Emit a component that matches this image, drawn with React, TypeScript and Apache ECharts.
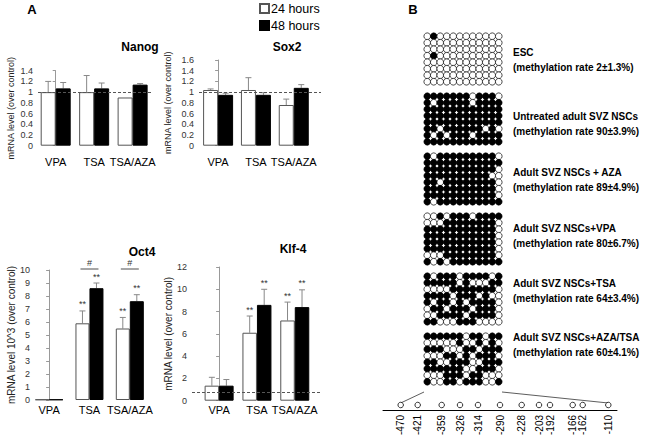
import React, { useEffect, useRef } from "react";
import * as echarts from "echarts";

// ---------- DATA ----------
const groups = ["VPA", "TSA", "TSA/AZA"];

const nanog24 = [1.0, 1.0, 0.9];
const nanog24Err = [0.2, 0.31, 0];
const nanog48 = [1.07, 1.07, 1.14];
const nanog48Err = [0.11, 0.1, 0.02];

const sox2_24 = [1.04, 1.04, 0.76];
const sox2_24Err = [0.02, 0.23, 0.11];
const sox2_48 = [0.95, 0.95, 1.08];
const sox2_48Err = [0.03, 0.04, 0.06];

const oct4_24 = [0.04, 5.9, 5.5];
const oct4_24Err = [0, 0.95, 0.85];
const oct4_48 = [0.04, 8.6, 7.6];
const oct4_48Err = [0, 0.4, 0.5];
const oct4Stars24 = ["", "**", "**"];
const oct4Stars48 = ["", "**", "**"];
const oct4Hash = ["", "#", "#"];

const klf24 = [1.35, 6.1, 7.2];
const klf24Err = [0.75, 1.5, 1.65];
const klf48 = [1.35, 8.6, 8.4];
const klf48Err = [0.55, 1.4, 1.55];
const klfStars24 = ["", "**", "**"];
const klfStars48 = ["", "**", "**"];

const cpgSites = ["-470", "-421", "-359", "-326", "-314", "-290", "-228", "-203", "-192", "-166", "-162", "-110"];
const cpgMapPos = [17.7, 34.7, 58.7, 77, 95, 117, 138.7, 156, 167, 189.7, 199.7, 225.3];

const methLabels = [
  "ESC",
  "Untreated adult SVZ NSCs",
  "Adult SVZ NSCs + AZA",
  "Adult SVZ NSCs+VPA",
  "Adult SVZ NSCs+TSA",
  "Adult SVZ NSCs+AZA/TSA",
];
const methRates = [
  "(methylation rate 2\u00b11.3%)",
  "(methylation rate 90\u00b13.9%)",
  "(methylation rate 89\u00b14.9%)",
  "(methylation rate 80\u00b16.7%)",
  "(methylation rate 64\u00b13.4%)",
  "(methylation rate 60\u00b14.1%)",
];
// 1 = methylated (black), 0 = unmethylated (white); 8 clones x 12 CpGs
const methPatterns = [
  [
    "010000000000",
    "000000000000",
    "000000000000",
    "010000000000",
    "000000000000",
    "000000000000",
    "000000000000",
    "000000000000",
  ],
  [
    "111111101110",
    "101111101111",
    "111111111111",
    "111111111111",
    "111111111111",
    "110111111010",
    "101011101111",
    "111111111111",
  ],
  [
    "101111111110",
    "111111111111",
    "111111111110",
    "111111111100",
    "110111111110",
    "111111111110",
    "111111111110",
    "101111111111",
  ],
  [
    "001011101111",
    "000111111110",
    "111111111110",
    "111111111110",
    "111111111110",
    "111111111110",
    "000111111110",
    "101011111111",
  ],
  [
    "101110111101",
    "111110100011",
    "000011111110",
    "111101110100",
    "101101011110",
    "011011101110",
    "001111011110",
    "110001110000",
  ],
  [
    "111111011011",
    "000001001010",
    "111000110111",
    "000110101110",
    "110011100111",
    "111111001110",
    "000111011000",
    "100110111001",
  ],
];

// ---------- LAYOUT / STYLE ----------
const FONT = "'Liberation Sans', Arial, Helvetica, sans-serif";

type Panel = {
  title: string;
  yName: string;
  v24: number[];
  e24: number[];
  v48: number[];
  e48: number[];
  s24?: string[];
  s48?: string[];
  hash?: string[];
  ref?: number;
  yMax: number;
  yInt: number;
  left: number;
  top: number;
  width: number;
  height: number;
  xMin: number;
  xMax: number;
  barW: number;
  labelMargin: number;
  nameGap: number;
  nameSize: number;
  titleX: number;
  titleY: number;
};

const panels: Panel[] = [
  {
    title: "Nanog", yName: "mRNA level (over control)",
    v24: nanog24, e24: nanog24Err, v48: nanog48, e48: nanog48Err, ref: 1,
    yMax: 1.4, yInt: 0.2, left: 38, top: 70.7, width: 115, height: 75,
    xMin: -0.46, xMax: 2.53, barW: 15, labelMargin: 11, nameGap: 23, nameSize: 9,
    titleX: 140, titleY: 47,
  },
  {
    title: "Sox2", yName: "mRNA level (over control)",
    v24: sox2_24, e24: sox2_24Err, v48: sox2_48, e48: sox2_48Err, ref: 1,
    yMax: 1.6, yInt: 0.2, left: 199, top: 60, width: 122, height: 85.7,
    xMin: -0.505, xMax: 2.72, barW: 15, labelMargin: 11, nameGap: 27, nameSize: 9,
    titleX: 287, titleY: 47,
  },
  {
    title: "Oct4", yName: "mRNA level 10^3 (over control)",
    v24: oct4_24, e24: oct4_24Err, v48: oct4_48, e48: oct4_48Err,
    s24: oct4Stars24, s48: oct4Stars48, hash: oct4Hash,
    yMax: 10, yInt: 1, left: 35, top: 270, width: 117, height: 130,
    xMin: -0.35, xMax: 2.55, barW: 14, labelMargin: 4, nameGap: 17, nameSize: 10,
    titleX: 142, titleY: 252,
  },
  {
    title: "Klf-4", yName: "mRNA level (over control)",
    v24: klf24, e24: klf24Err, v48: klf48, e48: klf48Err,
    s24: klfStars24, s48: klfStars48, ref: 0.8,
    yMax: 12, yInt: 2, left: 192, top: 267, width: 130, height: 133.7,
    xMin: -0.717, xMax: 2.72, barW: 14.5, labelMargin: 4, nameGap: 15, nameSize: 10,
    titleX: 293, titleY: 249,
  },
];

const methLeft = 424;
const methTops = [33, 93, 153, 213, 273, 333];
const methCell = 6.5;
const methTextX = 513;
const methTextY = [52, 116, 172, 228, 283, 337];

export default function App() {
  const ref = useRef<HTMLDivElement>(null);

  useEffect(() => {
    if (!ref.current) return;
    const chart = echarts.init(ref.current, null, { renderer: "svg" });

    const grids: any[] = [];
    const xAxes: any[] = [];
    const yAxes: any[] = [];
    const series: any[] = [];
    const graphics: any[] = [];

    panels.forEach((p, i) => {
      grids.push({ left: p.left, top: p.top, width: p.width, height: p.height });
      xAxes.push({
        gridIndex: i, type: "value", min: p.xMin, max: p.xMax,
        axisLine: { show: false }, axisTick: { show: false }, splitLine: { show: false },
        axisLabel: {
          customValues: [0, 1, 2],
          formatter: (v: number) => groups[Math.round(v)] ?? "",
          fontFamily: FONT, fontSize: 11, color: "#000", margin: p.labelMargin,
        },
      });
      yAxes.push({
        gridIndex: i, type: "value", min: 0, max: p.yMax, interval: p.yInt,
        name: p.yName, nameLocation: "middle", nameGap: p.nameGap,
        nameTextStyle: { fontFamily: FONT, fontSize: p.nameSize, color: "#222" },
        axisLine: { show: true, lineStyle: { color: "#999", width: 1 } },
        axisTick: { show: true, length: 3, lineStyle: { color: "#999" } },
        axisLabel: { fontFamily: FONT, fontSize: 9, color: "#333", margin: 5 },
        splitLine: { show: false },
      });
      const mk = (vals: number[]) => vals.map((v, k) => [k, v]);
      series.push({
        type: "bar", name: "24 hours", xAxisIndex: i, yAxisIndex: i,
        data: mk(p.v24), barWidth: p.barW, barGap: "0%",
        itemStyle: { color: "#fff", borderColor: "#555", borderWidth: 1 },
        markLine: p.ref !== undefined ? {
          silent: true, symbol: ["none", "none"], label: { show: false },
          lineStyle: { type: [3, 2], color: "#555", width: 1 },
          data: [{ yAxis: p.ref }],
        } : undefined,
      });
      series.push({
        type: "bar", name: "48 hours", xAxisIndex: i, yAxisIndex: i,
        data: mk(p.v48), barWidth: p.barW, barGap: "0%",
        itemStyle: { color: "#000", borderColor: "#000", borderWidth: 1 },
      });
      const errSeries = (vals: number[], errs: number[], stars: string[] | undefined, side: number) => ({
        type: "custom", xAxisIndex: i, yAxisIndex: i, silent: true,
        data: vals.map((v, k) => [k, v, errs[k]]),
        renderItem: (params: any, api: any) => {
          const x = api.value(0), v = api.value(1), e = api.value(2);
          const base = api.coord([x, v]);
          const tip = api.coord([x, v + e]);
          const cx = base[0] + (side * p.barW) / 2;
          const children: any[] = [];
          if (e > 0) {
            children.push({ type: "line", shape: { x1: cx, y1: base[1], x2: cx, y2: tip[1] }, style: { stroke: "#888", lineWidth: 1 } });
            children.push({ type: "line", shape: { x1: cx - 3, y1: tip[1], x2: cx + 3, y2: tip[1] }, style: { stroke: "#888", lineWidth: 1 } });
          }
          const star = stars ? stars[params.dataIndex] : "";
          if (star) {
            children.push({
              type: "text", x: cx, y: tip[1] - 2,
              style: { text: star, fill: "#333", font: `9px ${FONT}`, align: "center", verticalAlign: "bottom" },
            });
          }
          return { type: "group", children };
        },
      });
      series.push(errSeries(p.v24, p.e24, p.s24, -1));
      series.push(errSeries(p.v48, p.e48, p.s48, 1));
      if (p.hash) {
        const hash = p.hash;
        series.push({
          type: "custom", xAxisIndex: i, yAxisIndex: i, silent: true,
          data: hash.map((h, k) => [k, p.yMax]),
          renderItem: (params: any, api: any) => {
            const h = hash[params.dataIndex];
            if (!h) return { type: "group", children: [] };
            const pt = api.coord([api.value(0), api.value(1)]);
            return {
              type: "group",
              children: [
                { type: "line", shape: { x1: pt[0] - 9, y1: pt[1] - 1, x2: pt[0] + 9, y2: pt[1] - 1 }, style: { stroke: "#888", lineWidth: 1.5 } },
                { type: "text", x: pt[0], y: pt[1] - 3, style: { text: h, fill: "#333", font: `9px ${FONT}`, align: "center", verticalAlign: "bottom" } },
              ],
            };
          },
        });
      }
      graphics.push({
        type: "text", x: p.titleX, y: p.titleY,
        style: { text: p.title, font: `bold 12px ${FONT}`, fill: "#000", align: "center", verticalAlign: "middle" },
      });
    });

    // methylation grids
    methPatterns.forEach((pat, m) => {
      const gi = grids.length;
      grids.push({ left: methLeft, top: methTops[m], width: methCell * 12, height: methCell * 8 });
      xAxes.push({ gridIndex: gi, type: "value", min: -0.5, max: 11.5, show: false });
      yAxes.push({ gridIndex: gi, type: "value", min: -0.5, max: 7.5, inverse: true, show: false });
      const data: any[] = [];
      pat.forEach((row, r) => {
        row.split("").forEach((b, c) => {
          data.push({ value: [c, r], itemStyle: { color: b === "1" ? "#000" : "#fff" } });
        });
      });
      series.push({
        type: "scatter", xAxisIndex: gi, yAxisIndex: gi, silent: true,
        symbol: "circle", symbolSize: methCell + 0.2, data,
        itemStyle: { borderColor: "#000", borderWidth: 0.7, opacity: 1 },
      });
      graphics.push({
        type: "text", x: methTextX, y: methTextY[m],
        style: { text: methLabels[m], font: `bold 10px ${FONT}`, fill: "#000", verticalAlign: "middle" },
      });
      graphics.push({
        type: "text", x: methTextX, y: methTextY[m] + 15,
        style: { text: methRates[m], font: `bold 10px ${FONT}`, fill: "#000", verticalAlign: "middle" },
      });
    });

    // CpG map axis
    const cgi = grids.length;
    grids.push({ left: 383, top: 400, width: 234, height: 10 });
    xAxes.push({
      gridIndex: cgi, type: "value", min: 0, max: 234,
      axisLine: { show: true, lineStyle: { color: "#000", width: 1 } },
      axisTick: { show: false }, splitLine: { show: false },
      axisLabel: {
        customValues: cpgMapPos, rotate: 90, margin: 5,
        formatter: (v: number) => {
          const k = cpgMapPos.findIndex((q) => Math.abs(q - v) < 1e-6);
          return k >= 0 ? cpgSites[k] : "";
        },
        fontFamily: FONT, fontSize: 10, color: "#000",
      },
    });
    yAxes.push({ gridIndex: cgi, type: "value", min: 0, max: 1, show: false });
    series.push({
      type: "scatter", xAxisIndex: cgi, yAxisIndex: cgi, silent: true,
      symbol: "circle", symbolSize: 5.5,
      data: cpgMapPos.map((q) => [q, 0.5]),
      itemStyle: { color: "#fff", borderColor: "#000", borderWidth: 0.8, opacity: 1 },
    });

    graphics.push({ type: "text", x: 32, y: 9, style: { text: "A", font: `bold 13px ${FONT}`, fill: "#000", align: "center", verticalAlign: "middle" } });
    graphics.push({ type: "text", x: 413, y: 9, style: { text: "B", font: `bold 13px ${FONT}`, fill: "#000", align: "center", verticalAlign: "middle" } });

    chart.setOption({
      animation: false,
      backgroundColor: "#fff",
      textStyle: { fontFamily: FONT },
      legend: {
        data: ["24 hours", "48 hours"], orient: "vertical", left: 259, top: 2,
        itemWidth: 9, itemHeight: 9, itemGap: 4, padding: 0, icon: "rect",
        textStyle: { fontFamily: FONT, fontSize: 12.5, color: "#000", padding: [0, 0, 0, -3] },
        selectedMode: false,
      },
      grid: grids,
      xAxis: xAxes,
      yAxis: yAxes,
      series,
      graphic: graphics,
    });

    // connecting lines from last methylation grid to CpG map
    const lastGrid = grids.length - 2;
    const bl = chart.convertToPixel({ gridIndex: lastGrid }, [-0.5, 7.5]) as number[];
    const br = chart.convertToPixel({ gridIndex: lastGrid }, [11.5, 7.5]) as number[];
    const c0 = chart.convertToPixel({ gridIndex: cgi }, [cpgMapPos[0], 1]) as number[];
    const c1 = chart.convertToPixel({ gridIndex: cgi }, [cpgMapPos[cpgMapPos.length - 1], 1]) as number[];
    chart.setOption({
      graphic: [
        ...graphics,
        { type: "line", shape: { x1: bl[0], y1: bl[1] + 7, x2: c0[0], y2: c0[1] + 3 }, style: { stroke: "#333", lineWidth: 0.8 } },
        { type: "line", shape: { x1: br[0], y1: br[1] + 7, x2: c1[0], y2: c1[1] + 3 }, style: { stroke: "#333", lineWidth: 0.8 } },
      ],
    });

    return () => chart.dispose();
  }, []);

  return <div ref={ref} style={{ position: "fixed", left: 0, top: 0, width: 662, height: 443 }} />;
}
